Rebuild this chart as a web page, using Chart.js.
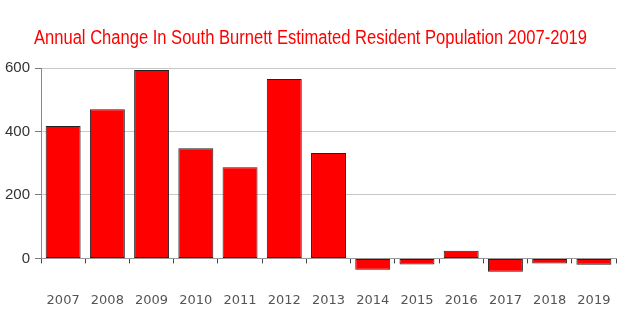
<!DOCTYPE html>
<html><head><meta charset="utf-8">
<script src="https://cdn.jsdelivr.net/npm/chart.js@4/dist/chart.umd.min.js"></script>
<style>html,body{margin:0;padding:0;background:#fff;}#wrap{width:620px;height:333px;}</style>
</head><body><div id="wrap"><canvas id="c" width="620" height="333"></canvas></div>
<script>
const categories = ['2007','2008','2009','2010','2011','2012','2013','2014','2015','2016','2017','2018','2019'];
const populationChange = [417, 470, 594, 347, 287, 565, 332, -36, -19, 24, -42, -16, -20];
const yTickValues = [0, 200, 400, 600];
const titleText = 'Annual Change In South Burnett Estimated Resident Population 2007-2019';

// Title drawn condensed (like the reference's narrow face) using canvas maxWidth
const condensedTitle = {
  id: 'condensedTitle',
  afterDraw(chart) {
    const ctx = chart.ctx;
    ctx.save();
    ctx.fillStyle = '#ff0000';
    ctx.font = '20px "Liberation Sans", Arial, sans-serif';
    ctx.textAlign = 'center';
    ctx.textBaseline = 'alphabetic';
    ctx.fillText(titleText, 310.5, 44, 553);
    ctx.restore();
  }
};

new Chart(document.getElementById('c'), {
  type: 'bar',
  data: {
    labels: categories,
    datasets: [{
      data: populationChange,
      backgroundColor: '#ff0000',
      borderColor: '#222',
      borderWidth: 1,
      borderSkipped: false,
      categoryPercentage: 1,
      barPercentage: 0.79,
      clip: false
    }]
  },
  plugins: [condensedTitle],
  options: {
    responsive: false,
    animation: false,
    layout: { padding: { left: 0, right: 4, top: 68, bottom: -4 } },
    plugins: {
      legend: { display: false },
      tooltip: { enabled: false },
      title: { display: false }
    },
    scales: {
      x: {
        type: 'category',
        position: 'bottom',
        offset: true,
        afterFit: (s) => { s.paddingLeft = 0; s.paddingRight = 0; },
        grid: { drawOnChartArea: false, drawTicks: true, tickLength: 5, tickColor: '#444', offset: true },
        border: { display: true, color: '#999', width: 1 },
        ticks: { color: '#555', font: { family: '"DejaVu Sans", Verdana, sans-serif', size: 13 }, padding: 29, maxRotation: 0, autoSkip: false }
      },
      y: {
        min: 0,
        max: 600,
        afterBuildTicks: (axis) => { axis.ticks = yTickValues.map(v => ({ value: v })); },
        grid: {
          color: (ctx) => ctx.tick && ctx.tick.value === 0 ? 'rgba(0,0,0,0)' : '#c8c8c8',
          tickColor: '#777',
          tickLength: 6
        },
        border: { display: true, color: '#888' },
        ticks: { color: '#333', font: { family: '"Liberation Sans", Arial, sans-serif', size: 15 }, padding: 5 }
      }
    }
  }
});
</script>
</body></html>
